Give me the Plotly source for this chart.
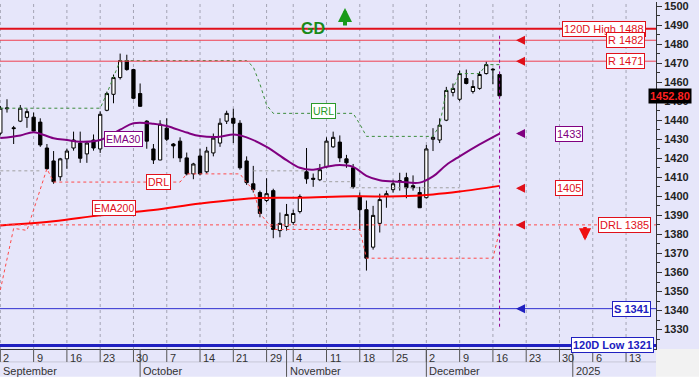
import plotly.graph_objects as go

# ---------------- data ----------------
# trading-day index (0 = 2 Sep 2024, 75 = 17 Dec 2024)
day_idx = list(range(76))
opens = [1433.2, 1446.0, 1436.0, 1439.5, 1441.5, 1441.6, 1439.0, 1425.4, 1418.6, 1410.3,
         1419.7, 1425.4, 1428.0, 1422.3, 1429.6, 1424.9, 1445.2, 1453.6, 1462.4, 1471.3,
         1466.6, 1454.0, 1439.5, 1424.9, 1419.1, 1435.8, 1427.5, 1429.0, 1420.2, 1411.8,
         1421.2, 1412.9, 1422.8, 1428.0, 1439.5, 1441.0, 1438.4, 1418.6, 1406.6, 1402.0,
         1397.8, 1403.0, 1382.0, 1384.2, 1386.3, 1392.0, 1412.9, 1409.5, 1408.7, 1415.5,
         1426.0, 1428.5, 1419.7, 1415.0, 1400.0, 1393.0, 1373.3, 1385.8, 1399.9, 1403.5,
         1408.2, 1409.8, 1405.6, 1402.0, 1399.3, 1430.0, 1429.6, 1440.0, 1454.6, 1451.0,
         1461.9, 1455.1, 1456.7, 1464.5, 1466.8, 1464.0]
highs = [1447.5, 1451.0, 1437.0, 1448.0, 1446.0, 1444.0, 1441.0, 1427.5, 1423.8, 1420.2,
         1425.0, 1434.0, 1434.0, 1429.0, 1432.5, 1444.7, 1455.0, 1464.0, 1475.0, 1474.4,
         1467.0, 1459.3, 1440.0, 1427.5, 1440.0, 1441.0, 1428.0, 1431.0, 1423.0, 1417.6,
         1425.0, 1426.0, 1433.0, 1441.0, 1445.0, 1446.0, 1440.0, 1421.0, 1416.0, 1403.0,
         1409.5, 1404.0, 1391.5, 1396.0, 1393.0, 1401.0, 1425.4, 1412.0, 1417.0, 1431.0,
         1434.0, 1432.0, 1421.8, 1417.0, 1402.0, 1397.8, 1395.0, 1401.4, 1403.0, 1408.7,
         1412.4, 1412.4, 1411.0, 1405.0, 1427.0, 1435.8, 1441.0, 1457.5, 1459.3, 1466.0,
         1466.6, 1461.0, 1465.6, 1470.8, 1467.5, 1465.5]
lows = [1432.0, 1444.0, 1427.5, 1439.0, 1436.0, 1434.0, 1426.0, 1414.0, 1406.6, 1408.2,
        1414.5, 1424.0, 1417.6, 1417.6, 1424.0, 1422.8, 1444.7, 1448.9, 1461.4, 1466.0,
        1451.0, 1447.0, 1425.0, 1417.0, 1419.0, 1429.0, 1420.0, 1418.0, 1411.0, 1409.0,
        1411.0, 1412.0, 1421.0, 1426.0, 1438.0, 1428.0, 1414.0, 1406.0, 1402.0, 1389.0,
        1397.0, 1378.0, 1378.5, 1382.0, 1385.0, 1391.0, 1406.6, 1405.0, 1408.0, 1415.0,
        1425.5, 1418.0, 1415.0, 1404.0, 1382.0, 1361.0, 1372.0, 1381.0, 1394.0, 1402.0,
        1403.0, 1399.0, 1403.0, 1394.0, 1399.0, 1423.8, 1428.0, 1439.5, 1452.5, 1450.0,
        1458.8, 1454.0, 1456.0, 1464.0, 1459.0, 1451.5]
closes = [1446.3, 1446.4, 1435.6, 1446.3, 1444.5, 1434.3, 1427.0, 1414.5, 1407.7, 1419.7,
          1423.8, 1429.6, 1420.0, 1428.0, 1425.4, 1443.1, 1454.0, 1462.4, 1471.3, 1466.6,
          1451.5, 1447.3, 1429.0, 1419.1, 1437.9, 1430.0, 1426.5, 1420.2, 1411.8, 1417.0,
          1411.8, 1423.8, 1430.6, 1438.4, 1443.6, 1438.4, 1415.0, 1407.2, 1403.5, 1391.0,
          1401.4, 1382.6, 1385.8, 1390.5, 1391.0, 1399.9, 1409.2, 1409.0, 1414.0, 1429.0,
          1431.0, 1420.2, 1417.6, 1405.0, 1393.0, 1367.5, 1390.0, 1398.3, 1401.4, 1406.6,
          1408.0, 1404.5, 1404.5, 1394.0, 1424.9, 1431.0, 1437.4, 1455.6, 1456.7, 1464.5,
          1459.3, 1457.7, 1464.0, 1469.2, 1466.5, 1452.8]

# indicator lines (index, value)
ema30_idx = [0, 3, 5, 8, 10, 12, 15, 18, 20, 23, 25, 28, 30, 33, 35, 37, 40, 43, 45, 47,
             49, 51, 53, 55, 57, 60, 63, 65, 67, 69, 72, 75]
ema30_val = [1430.6, 1432.0, 1433.7, 1430.5, 1429.6, 1428.7, 1429.6, 1435.0, 1438.4, 1438.2,
             1437.0, 1433.5, 1431.7, 1431.3, 1432.5, 1431.0, 1426.0, 1419.0, 1415.0, 1414.0,
             1415.5, 1416.5, 1415.5, 1410.8, 1408.5, 1407.7, 1407.2, 1410.5, 1416.5, 1421.0,
             1427.3, 1433.0]
ema200_idx = [0, 8, 15, 23, 30, 38, 45, 53, 60, 65, 69, 75]
ema200_val = [1384.7, 1386.9, 1390.0, 1392.8, 1396.2, 1399.0, 1399.3, 1400.0, 1400.0, 1401.0,
              1402.5, 1405.5]
url_idx = [0, 15, 16, 17, 18, 37, 38, 39, 40, 41, 53, 54, 55, 65, 66, 67, 68, 69, 72, 73, 75]
url_val = [1446.3, 1446.3, 1454.0, 1462.4, 1471.3, 1471.3, 1468.0, 1459.0, 1448.0, 1443.6,
           1443.6, 1438.0, 1431.5, 1431.5, 1437.4, 1455.6, 1456.7, 1464.5, 1464.5, 1469.2, 1469.2]
drl_idx = [0, 2, 4, 7, 8, 27, 28, 36, 37, 38, 39, 41, 54, 55, 74, 75]
drl_val = [1350.8, 1383.2, 1382.1, 1414.5, 1407.5, 1407.5, 1411.8, 1411.8, 1407.2, 1403.5,
           1391.0, 1382.6, 1382.6, 1367.5, 1367.5, 1382.0]
mid_idx = [0, 6, None, 38, 46, None, 48.5, 52.5, None, 52.5, 69]
mid_val = [1413.4, 1413.4, None, 1413.4, 1413.4, None, 1407.7, 1407.7, None, 1404.5, 1404.5]

# levels
high120, low120 = 1488, 1321
res1, res2 = 1482, 1471
support = 1341
drl_level = 1385
ema30_last, ema200_last = 1433, 1405
last_close = 1452.80

# x axis labelling
tick_idx = [0, 5, 10, 15, 20, 25, 30, 35, 40, 44, 49, 54, 59, 64, 69, 74, 79, 84, 89, 94]
tick_txt = ['2', '9', '16', '23', '30', '7', '14', '21', '29', '4', '11', '18', '25',
            '2', '9', '16', '23', '30', '6', '13']
month_idx = [0, 21, 43, 64, 86]
month_txt = ['September', 'October', 'November', 'December', '2025']

# ---------------- layout geometry ----------------
W, H = 699, 384
PW, PH = 656, 349          # plot area in pixels
X_RANGE = [-0.05, 98.5]
Y_RANGE = [1319.8, 1502.1]
BG = '#e6e6fa'
FONT = 'Liberation Sans, Arial, sans-serif'


def px(xp):
    return xp / PW


def py(yp):
    return 1 - yp / PH


fig = go.Figure()

fig.add_trace(go.Candlestick(
    x=day_idx, open=opens, high=highs, low=lows, close=closes,
    increasing=dict(line=dict(color='black', width=1), fillcolor='white'),
    decreasing=dict(line=dict(color='black', width=1), fillcolor='black'),
    whiskerwidth=0, showlegend=False, hoverinfo='skip'))

fig.add_trace(go.Scatter(x=mid_idx, y=mid_val, mode='lines',
                         line=dict(color='#a0a0a0', width=1, dash='dot'), hoverinfo='skip'))
fig.add_trace(go.Scatter(x=url_idx, y=url_val, mode='lines',
                         line=dict(color='#3c8c3c', width=1, dash='dot'), hoverinfo='skip'))
fig.add_trace(go.Scatter(x=drl_idx, y=drl_val, mode='lines',
                         line=dict(color='#ff4a4a', width=1, dash='dot'), hoverinfo='skip'))
fig.add_trace(go.Scatter(x=ema200_idx, y=ema200_val, mode='lines', line_shape='spline',
                         line=dict(color='#ff0000', width=2), hoverinfo='skip'))
fig.add_trace(go.Scatter(x=ema30_idx, y=ema30_val, mode='lines', line_shape='spline',
                         line=dict(color='#800080', width=2), hoverinfo='skip'))

shapes = []
# vertical grid
for k in tick_idx:
    shapes.append(dict(type='line', xref='x', yref='paper', x0=k, x1=k, y0=0, y1=1,
                       line=dict(color='#a4a4b4', width=1, dash='dot'), layer='below'))
# horizontal levels
shapes += [
    dict(type='line', xref='paper', x0=0, x1=1, y0=high120, y1=high120,
         line=dict(color='#e0101a', width=2)),
    dict(type='line', xref='paper', x0=0, x1=1, y0=res1, y1=res1,
         line=dict(color='#f04050', width=1)),
    dict(type='line', xref='paper', x0=0, x1=1, y0=res2, y1=res2,
         line=dict(color='#f04050', width=1)),
    dict(type='line', xref='paper', x0=0, x1=1, y0=drl_level, y1=drl_level,
         line=dict(color='#ff4a4a', width=1, dash='dot')),
    dict(type='line', xref='paper', x0=0, x1=1, y0=support, y1=support,
         line=dict(color='#3030d0', width=1)),
    dict(type='line', xref='paper', x0=0, x1=1, y0=low120 + 0.6, y1=low120 + 0.6,
         line=dict(color='#2020c0', width=3)),
    dict(type='line', xref='x', x0=75, x1=75, y0=1331.5, y1=1484.6,
         line=dict(color='#900090', width=1, dash='dot')),
]
# bottom axis area
row1 = 13 / PH
row2 = 28 / PH
shapes.append(dict(type='rect', xref='paper', yref='paper', x0=0, x1=1, y0=-row2, y1=0,
                   fillcolor=BG, line=dict(width=0), layer='below'))
shapes.append(dict(type='rect', xref='paper', yref='paper', x0=1, x1=2, y0=-1, y1=0,
                   fillcolor='#f2f2f2', line=dict(width=0), layer='below'))
shapes.append(dict(type='rect', xref='paper', yref='paper', x0=-1, x1=2, y0=-1, y1=-row2,
                   fillcolor='white', line=dict(width=0), layer='below'))
shapes.append(dict(type='line', xref='paper', yref='paper', x0=0, x1=1, y0=-row1, y1=-row1,
                   line=dict(color='#c8c8d8', width=1)))
for k in tick_idx:
    shapes.append(dict(type='line', xref='x', yref='paper', x0=k, x1=k, y0=0, y1=-row1,
                       line=dict(color='#555555', width=1)))
for k in month_idx[1:]:
    shapes.append(dict(type='line', xref='x', yref='paper', x0=k, x1=k,
                       y0=0, y1=-row2, line=dict(color='#555555', width=1)))

ann = []
for k, t in zip(tick_idx, tick_txt):
    ann.append(dict(x=k, xref='x', y=-1 / PH, yref='paper', text=t, showarrow=False,
                    xanchor='left', yanchor='top', xshift=1,
                    font=dict(size=11, color='#333333', family=FONT)))
for k, t in zip(month_idx, month_txt):
    ann.append(dict(x=k, xref='x', y=-row1 - 1 / PH, yref='paper', text=t, showarrow=False,
                    xanchor='left', yanchor='top', xshift=1,
                    font=dict(size=11, color='#333333', family=FONT)))


def box(text, x_px, yval, color, anchor='right', bold=False, size=11):
    return dict(x=px(x_px), xref='paper', y=yval, yref='y',
                text=('<b>%s</b>' % text) if bold else text, showarrow=False,
                xanchor=anchor, yanchor='middle', bgcolor='white', bordercolor=color,
                borderwidth=1, borderpad=1,
                font=dict(size=size, color=color, family=FONT))


ann += [
    box('120D High %d' % high120, 646, high120, '#e0101a'),
    box('R %d' % res1, 645, res1, '#e0101a'),
    box('R %d' % res2, 645, res2, '#e0101a'),
    box('%d' % ema30_last, 569, ema30_last, '#800080', anchor='center'),
    box('%d' % ema200_last, 569, ema200_last - 0.7, '#e0101a', anchor='center'),
    box('DRL %d' % drl_level, 651, drl_level, '#e0101a'),
    box('S %d' % support, 651, support, '#2020c0', bold=True),
    box('120D Low %d' % low120, 654, low120 + 0.8, '#2020c0', bold=True),
]
# in-chart labels
for text, cx, cy, col in [('EMA30', 123, 138, '#800080'), ('EMA200', 114, 207, '#e0101a'),
                          ('DRL', 158, 181, '#e0101a'), ('URL', 323, 110, '#2a9a2a')]:
    ann.append(dict(x=px(cx), y=py(cy), xref='paper', yref='paper', text=text,
                    showarrow=False, xanchor='center', yanchor='middle', bgcolor='white',
                    bordercolor=col, borderwidth=1, borderpad=1,
                    font=dict(size=10.5, color=col, family=FONT)))

# left-pointing arrows
for yv, col in [(res1, '#e0101a'), (res2, '#e0101a'), (ema30_last, '#800080'),
                (ema200_last - 0.7, '#e0101a'), (drl_level, '#e0101a'), (support, '#2020c0')]:
    ann.append(dict(x=px(516), xref='paper', y=yv, yref='y', ax=10, ay=0, text='',
                    showarrow=True, arrowhead=2, arrowsize=0.9, arrowwidth=2, arrowcolor=col))
# down arrow red
ann.append(dict(x=px(585), xref='paper', y=py(240), yref='paper', ax=0, ay=-15, text='',
                showarrow=True, arrowhead=2, arrowsize=0.7, arrowwidth=3.5, arrowcolor='#f01010'))
# GD up arrow
ann.append(dict(x=px(313), y=py(16), xref='paper', yref='paper', text='<b>GD</b>',
                showarrow=False, font=dict(size=16, color='#1a8a1a', family=FONT)))
ann.append(dict(x=px(345), xref='paper', y=py(6), yref='paper', ax=0, ay=19, text='',
                showarrow=True, arrowhead=2, arrowsize=0.7, arrowwidth=4, arrowcolor='#1a9a1a'))
# last price tag
ann.append(dict(x=1, xref='paper', y=last_close, yref='y', text='<b>%.2f</b>' % last_close,
                showarrow=False, xanchor='left', yanchor='middle', xshift=-8, bgcolor='black',
                borderpad=1, font=dict(size=11, color='#ff2020', family=FONT)))

fig.update_layout(
    width=W, height=H,
    margin=dict(l=0, r=W - PW, t=0, b=H - PH),
    paper_bgcolor=BG, plot_bgcolor=BG,
    showlegend=False,
    shapes=shapes, annotations=ann,
    xaxis=dict(range=X_RANGE, showgrid=False, zeroline=False, showticklabels=False,
               ticks='', rangeslider=dict(visible=False), showline=True,
               linecolor='#333333', linewidth=1, fixedrange=True),
    yaxis=dict(range=Y_RANGE, side='right', showgrid=False, zeroline=False,
               tickvals=list(range(1330, 1501, 10)), ticks='outside', ticklen=5,
               tickcolor='#333333', showline=True, linecolor='#333333', linewidth=1,
               ticklabeloverflow='allow',
               tickfont=dict(size=11, color='#222222', family=FONT, weight='bold'),
               minor=dict(tick0=1325, dtick=10, ticklen=3, ticks='outside', tickcolor='#333333'),
               fixedrange=True),
)

fig.write_html('out.html', config={'displayModeBar': False},
               post_script="document.body.style.margin='0';document.body.style.overflow='hidden';")
